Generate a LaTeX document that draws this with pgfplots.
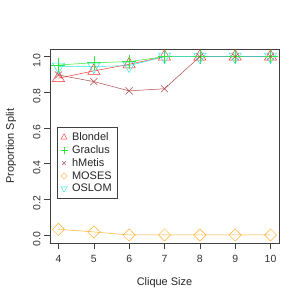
\documentclass[border=0pt]{standalone}
\usepackage{pgfplots}
\pgfplotsset{compat=1.18}
\usepackage{fontspec}
\setmainfont{Liberation Sans}
\definecolor{cBl}{HTML}{FF3030}
\definecolor{cGr}{HTML}{33E633}
\definecolor{cHm}{HTML}{B04848}
\definecolor{cMo}{HTML}{FFB02E}
\definecolor{cOs}{HTML}{2EE6E6}
\begin{document}
\begin{tikzpicture}[x=1bp,y=1bp]
\begin{axis}[
  scale only axis, width=229bp, height=193.5bp,
  xmin=3.76, xmax=10.24, ymin=-0.045, ymax=1.04,
  axis line style={draw=black!75, line width=0.6bp},
  xtick={4,5,6,7,8,9,10},
  ytick={0,0.2,0.4,0.6,0.8,1.0},
  yticklabels={0.0,0.2,0.4,0.6,0.8,1.0},
  tick align=outside, tick pos=left,
  major tick length=6bp,
  tick style={black!75, line width=0.6bp},
  /pgf/number format/assume math mode=true,
  ticklabel style={font=\fontsize{10.5}{12}\selectfont, text=black!80},
  yticklabel style={rotate=90, anchor=south, xshift=-4bp},
  xticklabel style={yshift=-3bp},
  label style={font=\fontsize{11}{13}\selectfont, text=black!85},
  xlabel={Clique Size}, ylabel={Proportion Split},
  xlabel style={yshift=-8bp},
  ylabel style={yshift=10bp},
  legend style={at={(0.03,0.60)}, anchor=north west, draw=black!75,
    font=\fontsize{11}{13}\selectfont, row sep=-0.5bp, inner sep=3.5bp,
    nodes={text=black!85, inner sep=2bp},
    /tikz/every odd column/.append style={column sep=2.5bp}},
  legend cell align=left,
  clip=false,
]
\addplot[cBl, line width=0.5bp, mark=triangle, mark size=7bp, mark options={solid}, forget plot]
  coordinates {(4,0.879) (5,0.92) (6,0.957) (7,1.0) (8,1.0) (9,1.0) (10,1.0)};
\addplot[cGr, line width=0.5bp, mark=+, mark size=7bp, forget plot]
  coordinates {(4,0.953) (5,0.966) (6,0.972) (7,1.0) (8,1.0) (9,1.0) (10,1.0)};
\addplot[cHm, line width=0.5bp, mark=x, mark size=5bp, forget plot]
  coordinates {(4,0.897) (5,0.86) (6,0.808) (7,0.82) (8,1.0) (9,1.0) (10,1.0)};
\addplot[cMo, line width=0.5bp, mark=square, mark size=4.3bp, mark options={rotate=45}, forget plot]
  coordinates {(4,0.032) (5,0.017) (6,0.0) (7,0.0) (8,0.0) (9,0.0) (10,0.0)};
\addplot[cOs, line width=0.5bp, mark=triangle, mark size=7bp, mark options={rotate=180}, forget plot]
  coordinates {(4,0.944) (5,0.944) (6,0.95) (7,1.0) (8,1.0) (9,1.0) (10,1.0)};
\addlegendimage{only marks, cBl, mark=triangle, mark size=3.5bp}
\addlegendentry{Blondel}
\addlegendimage{only marks, cGr, mark=+, mark size=3.5bp}
\addlegendentry{Graclus}
\addlegendimage{only marks, cHm, mark=x, mark size=2.7bp}
\addlegendentry{hMetis}
\addlegendimage{only marks, cMo, mark=square, mark size=2.3bp, mark options={rotate=45}}
\addlegendentry{MOSES}
\addlegendimage{only marks, cOs, mark=triangle, mark size=3.5bp, mark options={rotate=180}}
\addlegendentry{OSLOM}
\coordinate (sw) at (rel axis cs:0,0);
\coordinate (ne) at (rel axis cs:1,1);
\end{axis}
\path[use as bounding box] ([shift={(-50bp,-62bp)}]sw) rectangle ([shift={(26bp,49.5bp)}]ne);
\end{tikzpicture}
\end{document}
